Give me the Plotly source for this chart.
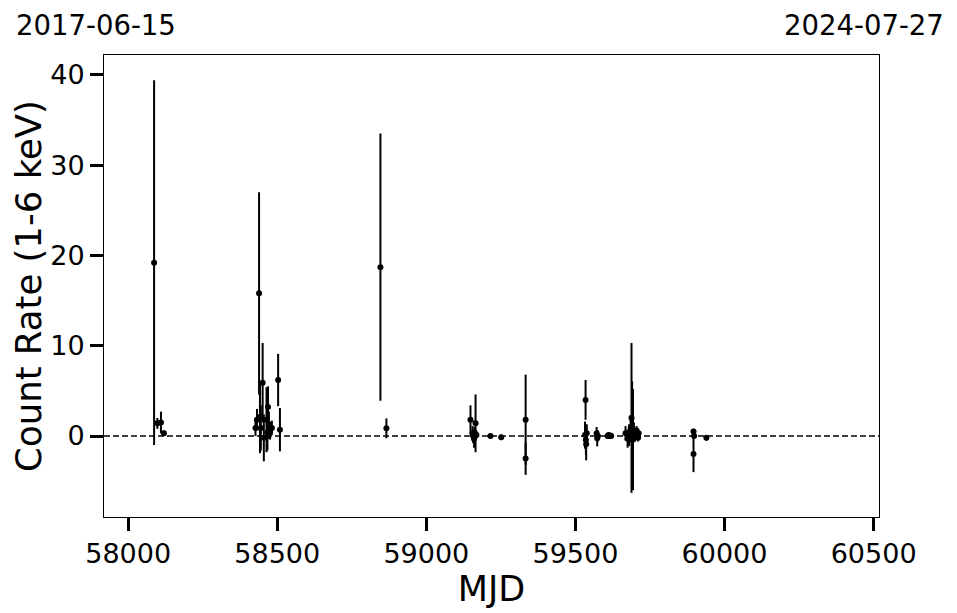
import plotly.graph_objects as go

mjd = [58087, 58098, 58110, 58120,
       58427, 58432, 58439, 58442, 58445, 58451, 58455, 58464, 58467, 58469,
       58472, 58476, 58482, 58503, 58509,
       58846, 58866,
       59148, 59155, 59157, 59160, 59162, 59165, 59168, 59215, 59251,
       59333, 59333,
       59532, 59534, 59535, 59536, 59538,
       59571, 59573, 59575,
       59608, 59611, 59614, 59617, 59620,
       59668, 59675, 59680, 59685, 59688, 59690, 59692, 59693, 59696, 59700,
       59705, 59710, 59712,
       59896, 59896, 59898, 59939]
rate = [19.2, 1.4, 1.5, 0.3,
        0.9, 1.8, 15.8, 2.1, 0.9, 5.9, -0.2, 1.8, 0.4, 3.2,
        1.2, 0.6, 0.9, 6.2, 0.7,
        18.7, 0.85,
        1.8, 0.3, 0.0, -0.3, 0.4, 1.4, 0.1, 0.0, -0.15,
        1.8, -2.5,
        0.1, 4.0, -0.45, -0.9, 0.3,
        0.3, -0.25, 0.0,
        0.0, 0.1, 0.0, 0.05, 0.0,
        0.3, -0.3, 0.1, 0.8, 2.0, 0.85, 0.0, -0.4, 0.5, 0.0,
        0.6, -0.2, 0.3,
        0.5, -2.0, 0.0, -0.2]
err = [20.2, 0.6, 1.2, 0.3,
       0.9, 1.2, 11.2, 4.0, 2.5, 4.4, 2.6, 3.6, 2.0, 2.3,
       1.5, 1.0, 0.8, 2.9, 2.4,
       14.8, 1.1,
       1.6, 0.8, 0.8, 1.0, 0.6, 3.2, 0.4, 0.2, 0.3,
       5.0, 1.8,
       1.5, 2.2, 1.6, 1.8, 1.0,
       0.7, 0.9, 0.6,
       0.2, 0.2, 0.3, 0.2, 0.2,
       0.8, 1.0, 1.2, 1.5, 8.3, 5.2, 2.0, 5.6, 1.0, 0.6,
       0.5, 0.4, 0.3,
       0.3, 2.0, 0.2, 0.3]

x_ticks = [58000, 58500, 59000, 59500, 60000, 60500]
y_ticks = [0, 10, 20, 30, 40]
start_label = "2017-06-15"
end_label = "2024-07-27"

FONT = "DejaVu Sans"

fig = go.Figure()
fig.add_trace(go.Scatter(
    x=mjd, y=rate, mode="markers",
    marker=dict(color="black", size=6),
    error_y=dict(type="data", array=err, visible=True, color="black",
                 thickness=2, width=0),
    showlegend=False,
))

fig.add_shape(type="line", xref="paper", yref="y", x0=0, x1=1, y0=0, y1=0,
              line=dict(color="black", width=1.5, dash="6px,3px"), layer="below")

ann_font = dict(size=27.5, color="black", family=FONT)
fig.add_annotation(text=start_label, xref="paper", yref="paper", x=-0.116, y=1.066,
                   xanchor="left", yanchor="middle", showarrow=False, height=24,
                   valign="middle", font=ann_font)
fig.add_annotation(text=end_label, xref="paper", yref="paper", x=1.0865, y=1.066,
                   xanchor="right", yanchor="middle", showarrow=False, height=24,
                   valign="middle", font=ann_font)

axis_common = dict(showline=True, linecolor="black", linewidth=1, mirror=True,
                   ticks="outside", ticklen=13, tickwidth=2.5, tickcolor="black",
                   showgrid=False, zeroline=False,
                   tickfont=dict(size=27, color="black", family=FONT))

fig.update_xaxes(range=[57919, 60518], tickvals=x_ticks,
                 ticktext=[str(v) for v in x_ticks],
                 title=dict(text="MJD", font=dict(size=35, color="black", family=FONT),
                            standoff=4),
                 **axis_common)
fig.update_yaxes(range=[-8.97, 42.2], tickvals=y_ticks,
                 ticktext=[str(v) for v in y_ticks],
                 title=dict(text="Count Rate (1-6 keV)",
                            font=dict(size=35.5, color="black", family=FONT),
                            standoff=8),
                 **axis_common)

# page body has an 8px margin; shrink figure so the plot area lands where the reference has it
fig.update_layout(width=949, height=605,
                  margin=dict(l=96, r=78, t=47, b=96, autoexpand=False),
                  plot_bgcolor="white", paper_bgcolor="white",
                  font=dict(family=FONT, color="black"))

fig.write_html("out.html")
